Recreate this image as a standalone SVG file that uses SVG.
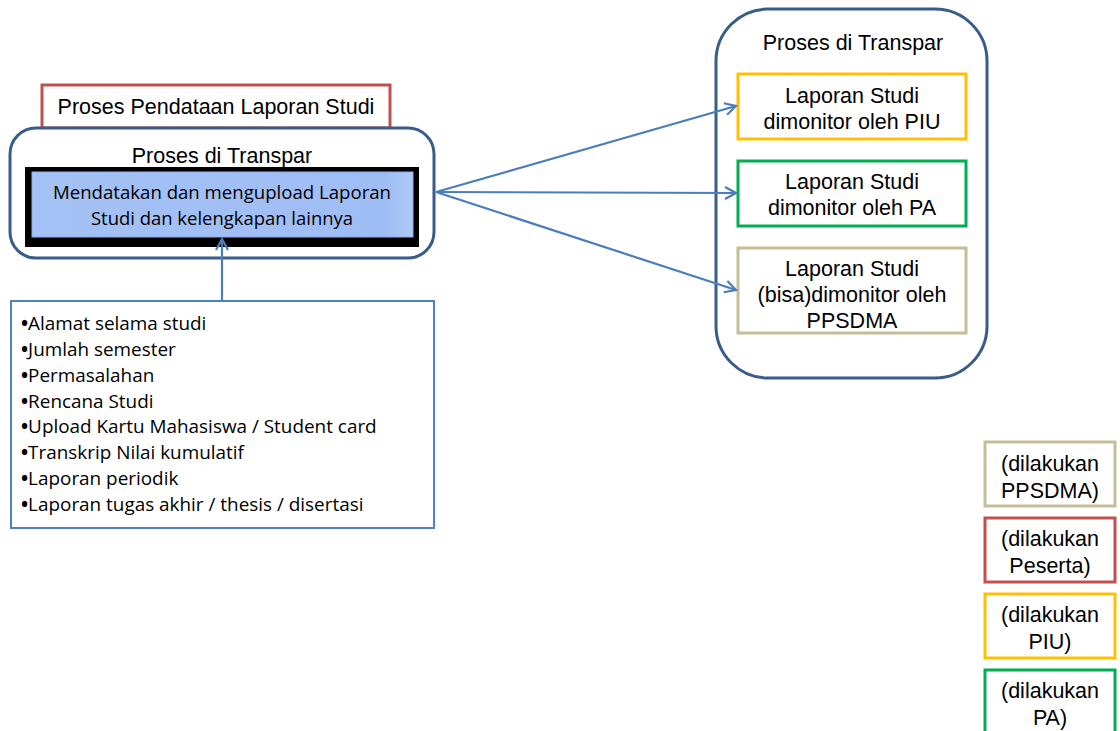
<svg xmlns="http://www.w3.org/2000/svg" width="1120" height="731" viewBox="0 0 1120 731">
<style>
.a{font-family:"Liberation Sans",Arial,sans-serif;font-size:21.5px;fill:#000;text-anchor:middle}
.c{font-family:"Open Sans","Liberation Sans",sans-serif;font-size:18.9px;fill:#000}
.cm{text-anchor:middle}
.b{font-weight:bold}
.grp{fill:#fff;stroke:#385d8a;stroke-width:3}
.conn{stroke:#4a7ebb;stroke-width:2.2;fill:none;marker-end:url(#ah)}
</style>
<defs>
<marker id="ah" markerWidth="14" markerHeight="14" refX="12" refY="7" orient="auto" markerUnits="userSpaceOnUse">
<path d="M1,1 L12,7 L1,13" fill="none" stroke="#4a7ebb" stroke-width="2.2"/>
</marker>
<linearGradient id="bg" x1="0" x2="1" y1="0" y2="0">
<stop offset="0" stop-color="#a5c2f6"/><stop offset="0.93" stop-color="#9fbdf5"/><stop offset="1" stop-color="#b0caf7"/>
</linearGradient>
</defs>
<rect width="1120" height="731" fill="#fff"/>

<g id="title">
<rect x="42" y="85" width="348" height="43" fill="#fff" stroke="#c0504d" stroke-width="3"/>
<text class="a" x="216" y="114">Proses Pendataan Laporan Studi</text>
</g>

<g id="left-group">
<rect class="grp" x="10" y="128" width="424" height="130" rx="26"/>
<text class="a" x="222" y="163">Proses di Transpar</text>
</g>

<g id="upload">
<rect x="25" y="167" width="394" height="80" fill="#000"/>
<rect x="32" y="172" width="381" height="65" fill="url(#bg)" stroke="#8eaee8" stroke-width="1"/>
<text class="c cm" x="222" y="199" textLength="338" lengthAdjust="spacingAndGlyphs">Mendatakan dan mengupload Laporan</text>
<text class="c cm" x="222" y="225" textLength="262" lengthAdjust="spacingAndGlyphs">Studi dan kelengkapan lainnya</text>
</g>

<g id="items">
<rect x="11" y="301" width="423" height="227" fill="#fff" stroke="#4f81bd" stroke-width="2"/>
<text class="c" x="21" y="330"><tspan class="b">•</tspan>Alamat selama studi</text>
<text class="c" x="21" y="356"><tspan class="b">•</tspan>Jumlah semester</text>
<text class="c" x="21" y="382"><tspan class="b">•</tspan>Permasalahan</text>
<text class="c" x="21" y="408"><tspan class="b">•</tspan>Rencana Studi</text>
<text class="c" x="21" y="433"><tspan class="b">•</tspan>Upload Kartu Mahasiswa / Student card</text>
<text class="c" x="21" y="459"><tspan class="b">•</tspan>Transkrip Nilai kumulatif</text>
<text class="c" x="21" y="485"><tspan class="b">•</tspan>Laporan periodik</text>
<text class="c" x="21" y="511"><tspan class="b">•</tspan>Laporan tugas akhir / thesis / disertasi</text>
</g>

<g id="right-group">
<rect class="grp" x="716" y="9" width="271" height="369" rx="52"/>
<text class="a" x="853" y="50">Proses di Transpar</text>
</g>

<g id="piu">
<rect x="738" y="74" width="228" height="65" fill="#fff" stroke="#ffc000" stroke-width="3"/>
<text class="a" x="852" y="103">Laporan Studi</text>
<text class="a" x="852" y="129">dimonitor oleh PIU</text>
</g>
<g id="pa">
<rect x="738" y="161" width="228" height="65" fill="#fff" stroke="#00b050" stroke-width="3"/>
<text class="a" x="852" y="189">Laporan Studi</text>
<text class="a" x="852" y="215">dimonitor oleh PA</text>
</g>
<g id="ppsdma">
<rect x="738" y="248" width="228" height="85" fill="#fff" stroke="#c4bd97" stroke-width="3"/>
<text class="a" x="852" y="276">Laporan Studi</text>
<text class="a" x="852" y="302">(bisa)dimonitor oleh</text>
<text class="a" x="852" y="328">PPSDMA</text>
</g>

<g id="legend-ppsdma">
<rect x="985" y="442" width="130" height="64" fill="#fff" stroke="#c4bd97" stroke-width="3"/>
<text class="a" x="1050" y="471">(dilakukan</text>
<text class="a" x="1050" y="498">PPSDMA)</text>
</g>
<g id="legend-peserta">
<rect x="985" y="518" width="130" height="64" fill="#fff" stroke="#c0504d" stroke-width="3"/>
<text class="a" x="1050" y="546">(dilakukan</text>
<text class="a" x="1050" y="573">Peserta)</text>
</g>
<g id="legend-piu">
<rect x="985" y="594" width="130" height="64" fill="#fff" stroke="#ffc000" stroke-width="3"/>
<text class="a" x="1050" y="622">(dilakukan</text>
<text class="a" x="1050" y="649">PIU)</text>
</g>
<g id="legend-pa">
<rect x="985" y="670" width="130" height="70" fill="#fff" stroke="#00b050" stroke-width="3"/>
<text class="a" x="1050" y="698">(dilakukan</text>
<text class="a" x="1050" y="725">PA)</text>
</g>

<g id="connectors">
<line class="conn" x1="222" y1="300" x2="222" y2="239"/>
<line class="conn" x1="436" y1="192" x2="736" y2="106"/>
<line class="conn" x1="436" y1="192" x2="736" y2="193"/>
<line class="conn" x1="436" y1="192" x2="736" y2="290"/>
</g>
</svg>
